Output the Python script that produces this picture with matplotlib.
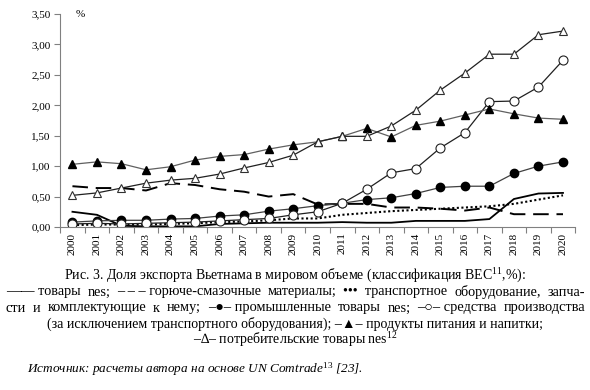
import matplotlib
matplotlib.use('Agg')
import matplotlib.pyplot as plt

plt.rcParams['font.family'] = ['Liberation Serif', 'DejaVu Sans']
plt.rcParams['mathtext.fontset'] = 'custom'
plt.rcParams['mathtext.rm'] = 'Liberation Serif'
plt.rcParams['mathtext.it'] = 'Liberation Serif:italic'

years = list(range(2000, 2021))
goods_nes = [0.25, 0.20, 0.02, 0.01, 0.01, 0.01, 0.05, 0.06, 0.07, 0.07, 0.07,
             0.08, 0.07, 0.07, 0.10, 0.10, 0.10, 0.13, 0.46, 0.55, 0.56]
fuels = [0.67, 0.64, 0.64, 0.60, 0.72, 0.69, 0.62, 0.58, 0.50, 0.54, 0.37,
         0.38, 0.38, 0.32, 0.32, 0.30, 0.27, 0.32, 0.21, 0.21, 0.21]
transport = [0.03, 0.04, 0.04, 0.04, 0.05, 0.06, 0.08, 0.09, 0.11, 0.14, 0.14,
             0.20, 0.23, 0.26, 0.28, 0.30, 0.32, 0.34, 0.38, 0.45, 0.52]
industrial = [0.08, 0.10, 0.11, 0.11, 0.13, 0.14, 0.18, 0.20, 0.26, 0.30, 0.35,
              0.39, 0.45, 0.48, 0.55, 0.65, 0.67, 0.67, 0.88, 1.00, 1.07]
capital = [0.05, 0.06, 0.05, 0.06, 0.07, 0.08, 0.10, 0.12, 0.14, 0.20, 0.25,
           0.39, 0.62, 0.89, 0.96, 1.30, 1.55, 2.06, 2.07, 2.30, 2.74]
food = [1.03, 1.07, 1.04, 0.94, 0.99, 1.10, 1.16, 1.19, 1.28, 1.35, 1.40,
        1.49, 1.62, 1.48, 1.67, 1.74, 1.84, 1.94, 1.86, 1.79, 1.77]
consumer = [0.52, 0.56, 0.64, 0.72, 0.77, 0.80, 0.87, 0.97, 1.06, 1.18, 1.40,
            1.49, 1.49, 1.66, 1.92, 2.25, 2.53, 2.84, 2.84, 3.16, 3.22]
yticks = [0, 0.5, 1.0, 1.5, 2.0, 2.5, 3.0, 3.5]

W, H = 590, 390
fig = plt.figure(figsize=(W / 100, H / 100), dpi=100)
ax = fig.add_axes([0.102, 0.418, 0.873, 0.546])

ax.plot(years, goods_nes, color='black', lw=1.3)
ax.plot(years, fuels, color='black', lw=1.4, dashes=(8, 4))
ax.plot(years, transport, color='black', lw=1.5, ls=(0, (1, 1.2)))
ax.plot(years, industrial, color='#404040', lw=0.9, marker='o', ms=6,
        mfc='black', mec='black')
ax.plot(years, capital, color='#202020', lw=0.9, marker='o', ms=6.5,
        mfc='white', mec='#202020', mew=0.8)
ax.plot(years, food, color='#606060', lw=0.9, marker='^', ms=6.2,
        mfc='black', mec='black')
ax.plot(years, consumer, color='#202020', lw=0.9, marker='^', ms=6.2,
        mfc='white', mec='#303030', mew=0.8)

ax.set_xlim(1999.5, 2020.5)
ax.set_ylim(0, 3.5)
ax.set_yticks(yticks)
ax.set_yticklabels([('%.2f' % v).replace('.', ',') for v in yticks], fontsize=8)
ax.set_xticks([y - 0.5 for y in years] + [2020.5])
ax.set_xticklabels([])
ax.set_xticks(years, minor=True)
ax.set_xticklabels([str(y) for y in years], minor=True, rotation=90, fontsize=8)
ax.tick_params(axis='x', which='minor', length=0, pad=4)
ax.tick_params(axis='x', which='major', length=4, color='#808080', direction='out')
ax.tick_params(axis='y', length=4, color='#808080', direction='out', pad=3)
for s in ['top', 'right']:
    ax.spines[s].set_visible(False)
for s in ['left', 'bottom']:
    ax.spines[s].set_color('#808080')
ax.text(2000.3, 3.5, '%', fontsize=8, va='center', ha='center')

fs = 10
renderer = fig.canvas.get_renderer()


def justify(ypix, text, x0, x1, size):
    # words separated by plain spaces; non-breaking spaces keep groups together
    words = [w for w in text.split(' ') if w]
    items = [fig.text(0, 1 - ypix / H, w, ha='left', va='center', fontsize=size) for w in words]
    widths = [t.get_window_extent(renderer).width for t in items]
    gap = (x1 - x0 - sum(widths)) / (len(words) - 1)
    x = x0
    for t, w in zip(items, widths):
        t.set_x(x / W)
        x += w + gap


fig.text(0.5, 1 - 276 / H, r'Рис. 3. Доля экспорта Вьетнама в мировом объеме (классификация BEC$^{\mathit{11}}$,%):',
         ha='center', va='center', fontsize=fs)
justify(292, '——\u00a0товары nes; –\u00a0–\u00a0–\u00a0горюче-смазочные материалы; •••\u00a0\u00a0транспортное оборудование, запча-', 6, 585, 10.3)
justify(308, 'сти и комплектующие к нему; –●–\u00a0промышленные товары nes; –○–\u00a0средства производства', 6, 585, 10.4)
fig.text(0.5, 1 - 324 / H, '(за исключением транспортного оборудования); –▲– продукты питания и напитки;',
         ha='center', va='center', fontsize=fs)
fig.text(0.5, 1 - 340 / H, r'–∆– потребительские товары nes$^{\mathit{12}}$',
         ha='center', va='center', fontsize=fs)
fig.text(27 / W, 1 - 369 / H, r'Источник: расчеты автора на основе UN Comtrade$^{\mathit{13}}$ [23].',
         ha='left', va='center', fontsize=9.5, style='italic')

fig.savefig('out.png', dpi=100)
